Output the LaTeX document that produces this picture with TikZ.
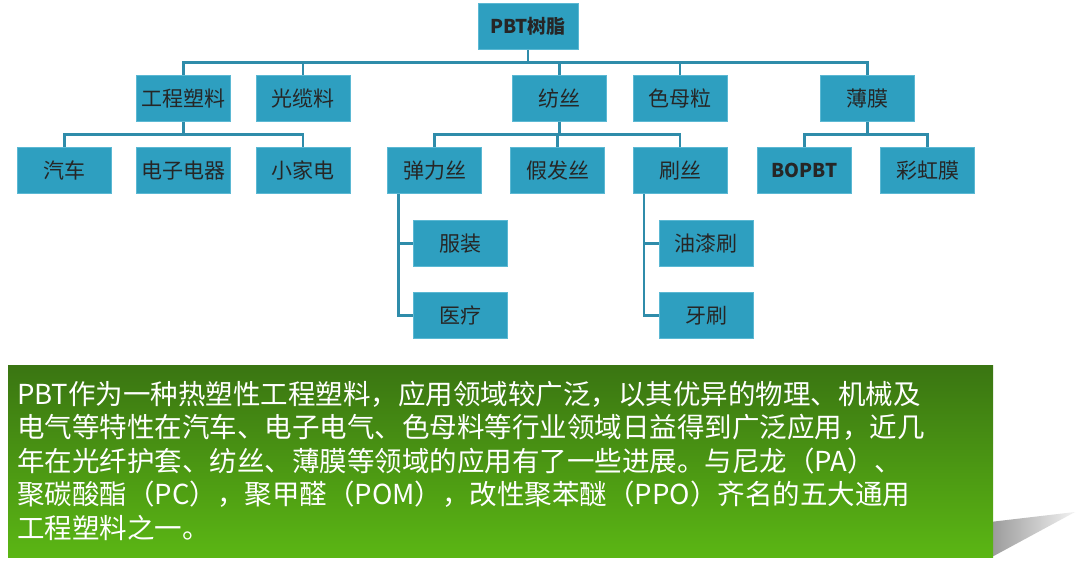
\documentclass[tikz,border=0pt]{standalone}
\usepackage{fontspec}
\setmainfont{Noto Sans CJK SC}
\usetikzlibrary{shadings}
\definecolor{boxc}{HTML}{2E9FC0}
\definecolor{boxb}{HTML}{5BB8D3}
\definecolor{linec}{HTML}{2F8CAA}
\definecolor{gtop}{HTML}{3A7512}
\definecolor{gbot}{HTML}{5BB614}
\begin{document}
\begin{tikzpicture}[x=1pt,y=-1pt,
  bx/.style={draw=boxb,line width=1pt,fill=boxc,minimum width=94pt,minimum height=46pt,inner sep=0pt,font=\fontsize{21}{24}\selectfont,text=black!85},
  ln/.style={draw=linec,line width=2.5pt},
  tl/.style={anchor=west,inner sep=0pt,text=white,font=\fontsize{27.5}{30}\selectfont}]
\useasboundingbox (0,0) rectangle (1080,567);
\fill[white] (0,0) rectangle (1080,567);
% shadow
\shade[left color=gray!80,right color=gray!10] (990,522) -- (1075,512) -- (990,558) -- cycle;
\node[bx,minimum width=100pt,font=\bfseries\fontsize{19}{22}\selectfont] (r) at (528,26.5) {PBT树脂};
\node[bx] (a1) at (183.5,98.5) {工程塑料};
\node[bx] (a2) at (303,98.5) {光缆料};
\node[bx] (a3) at (559.5,98.5) {纺丝};
\node[bx] (a4) at (680,98.5) {色母粒};
\node[bx] (a5) at (867.5,98.5) {薄膜};
\node[bx] (b1) at (64.5,170.5) {汽车};
\node[bx] (b2) at (183.5,170.5) {电子电器};
\node[bx] (b3) at (303,170.5) {小家电};
\node[bx] (b4) at (434.5,170.5) {弹力丝};
\node[bx] (b5) at (557.5,170.5) {假发丝};
\node[bx] (b6) at (680,170.5) {刷丝};
\node[bx,font=\bfseries\fontsize{19}{22}\selectfont] (b7) at (804.5,170.5) {BOPBT};
\node[bx] (b8) at (927.5,170.5) {彩虹膜};
\node[bx] (c1) at (460,243.5) {服装};
\node[bx] (c2) at (460,315.5) {医疗};
\node[bx] (c3) at (706,243.5) {油漆刷};
\node[bx] (c4) at (706,315.5) {牙刷};
% connectors
\draw[ln] (r.south) -- ++(0,12.5) coordinate (h0);
\draw[ln] (a1.north) -- ++(0,-12.5) -| (a5.north);
\draw[ln] (a2.north) -- ++(0,-12.5);
\draw[ln] (a3.north) -- ++(0,-12.5);
\draw[ln] (a4.north) -- ++(0,-12.5);
\draw[ln] (a1.south) -- ++(0,12.5);
\draw[ln] (b1.north) -- ++(0,-12.5) -| (b3.north);
\draw[ln] (a3.south) -- ++(0,12.5);
\draw[ln] (b4.north) -- ++(0,-12.5) -| (b6.north);
\draw[ln] (b5.north) -- ++(0,-12.5);
\draw[ln] (a5.south) -- ++(0,12.5);
\draw[ln] (b7.north) -- ++(0,-12.5) -| (b8.north);
\draw[ln] ([xshift=-36pt]b4.south) |- (c2.west);
\draw[ln] ([xshift=-36pt]b4.south |- c1.west) -- (c1.west);
\draw[ln] ([xshift=-36pt]b6.south) |- (c4.west);
\draw[ln] ([xshift=-36pt]b6.south |- c3.west) -- (c3.west);
% green box
\shade[top color=gtop,bottom color=gbot] (8,365) rectangle (993,557);
\node[tl] (t1) at (17,394) {PBT作为一种热塑性工程塑料，应用领域较广泛，以其优异的物理、机械及};
\node[tl] (t2) at (17,427) {电气等特性在汽车、电子电气、色母料等行业领域日益得到广泛应用，近几};
\node[tl] (t3) at (17,461) {年在光纤护套、纺丝、薄膜等领域的应用有了一些进展。与尼龙（PA）、};
\node[tl] (t4) at (17,494) {聚碳酸酯（PC），聚甲醛（POM），改性聚苯醚（PPO）齐名的五大通用};
\node[tl] (t5) at (17,528) {工程塑料之一。};
\end{tikzpicture}
\end{document}
